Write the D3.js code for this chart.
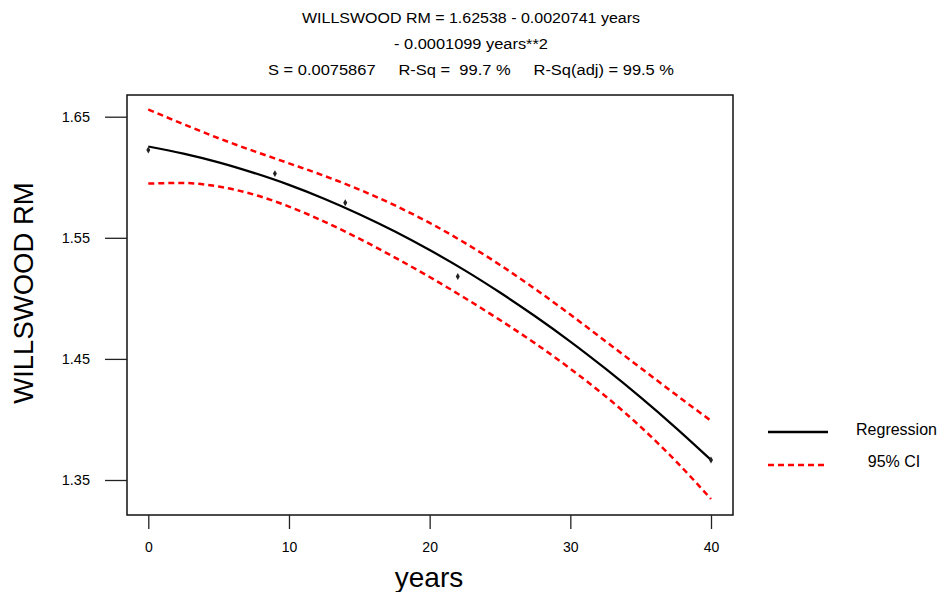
<!DOCTYPE html>
<html>
<head>
<meta charset="utf-8">
<script src="https://cdn.jsdelivr.net/npm/d3@7"></script>
<style>
  html, body { margin: 0; padding: 0; background: #fff; }
  svg { display: block; font-family: Arial, "Liberation Sans", sans-serif; }
</style>
</head>
<body>
<svg id="chart" width="943" height="592"></svg>
<script>
// ---- data ----
const obsYears = [0, 9, 14, 22, 40];
const obsRM = [1.6225, 1.6030, 1.5790, 1.5180, 1.3665];

const curveYears = [0, 2.5, 5, 7.5, 10, 12.5, 15, 17.5, 20, 22.5, 25, 27.5, 30, 32.5, 35, 37.5, 40];
const fitRM   = [1.6254, 1.6195, 1.6123, 1.6036, 1.5937, 1.5823, 1.5695, 1.5554, 1.5399, 1.5231, 1.5048, 1.4852, 1.4643, 1.4419, 1.4182, 1.3931, 1.3666];
const upperCI = [1.6560, 1.6438, 1.6322, 1.6216, 1.6115, 1.6012, 1.5898, 1.5769, 1.5623, 1.5458, 1.5276, 1.5077, 1.4866, 1.4646, 1.4425, 1.4205, 1.3989];
const lowerCI = [1.5948, 1.5953, 1.5923, 1.5857, 1.5758, 1.5634, 1.5493, 1.5339, 1.5176, 1.5003, 1.4821, 1.4628, 1.4419, 1.4192, 1.3939, 1.3656, 1.3343];

const xTicks = [0, 10, 20, 30, 40];
const yTicks = [1.35, 1.45, 1.55, 1.65];

const titleLines = [
  "WILLSWOOD RM = 1.62538 - 0.0020741 years",
  "- 0.0001099 years**2",
  "S = 0.0075867     R-Sq =  99.7 %     R-Sq(adj) = 99.5 %"
];
const titleWidths = [338, 154, 406];
const xLabel = "years";
const yLabel = "WILLSWOOD RM";
const legendItems = ["Regression", "95% CI"];

// ---- drawing ----
const svg = d3.select("#chart");
const frame = {left: 127, right: 733, top: 95, bottom: 515};

const x = d3.scaleLinear().domain([0, 40]).range([148.3, 711]);
const y = d3.scaleLinear().domain([1.35, 1.65]).range([480, 116.7]);

// frame
svg.append("rect")
  .attr("x", frame.left).attr("y", frame.top)
  .attr("width", frame.right - frame.left).attr("height", frame.bottom - frame.top)
  .attr("fill", "none").attr("stroke", "#111").attr("stroke-width", 1.5);

// axes
const yAxis = d3.axisLeft(y).tickValues(yTicks).tickFormat(d3.format(".2f"))
  .tickSize(22).tickSizeOuter(0).tickPadding(15);
const gy = svg.append("g").attr("transform", `translate(${frame.left},0)`).call(yAxis);
gy.select(".domain").remove();
gy.selectAll("line").attr("stroke", "#222").attr("stroke-width", 1.3);
gy.selectAll("text").attr("font-size", 14.5).attr("fill", "#000")
  .attr("font-family", "Arial, 'Liberation Sans', sans-serif");

const xAxis = d3.axisBottom(x).tickValues(xTicks).tickFormat(d3.format("d"))
  .tickSize(14).tickSizeOuter(0).tickPadding(12.8);
const gx = svg.append("g").attr("transform", `translate(0,${frame.bottom})`).call(xAxis);
gx.select(".domain").remove();
gx.selectAll("line").attr("stroke", "#222").attr("stroke-width", 1.3);
gx.selectAll("text").attr("font-size", 14).attr("fill", "#000")
  .attr("font-family", "Arial, 'Liberation Sans', sans-serif");

// lines
const lineGen = arr => d3.line()
  .x((d, i) => x(curveYears[i]))
  .y(d => y(d))
  .curve(d3.curveMonotoneX)(arr);

svg.append("path").attr("d", lineGen(upperCI))
  .attr("fill", "none").attr("stroke", "#ff0000").attr("stroke-width", 2.5)
  .attr("stroke-dasharray", "6,4");
svg.append("path").attr("d", lineGen(lowerCI))
  .attr("fill", "none").attr("stroke", "#ff0000").attr("stroke-width", 2.5)
  .attr("stroke-dasharray", "6,4");
svg.append("path").attr("d", lineGen(fitRM))
  .attr("fill", "none").attr("stroke", "#000").attr("stroke-width", 2.2);

// points
svg.append("g").selectAll("path").data(obsYears).join("path")
  .attr("transform", (d, i) => `translate(${x(d)},${y(obsRM[i])})`)
  .attr("d", d3.symbol().type(d3.symbolDiamond).size(14))
  .attr("fill", "#222");

// titles
titleLines.forEach((t, i) => {
  svg.append("text").attr("x", 471).attr("y", 22.5 + i * 26)
    .attr("text-anchor", "middle").attr("font-size", 15.5).attr("fill", "#000")
    .attr("textLength", titleWidths[i]).attr("lengthAdjust", "spacingAndGlyphs")
    .attr("xml:space", "preserve").style("white-space", "pre")
    .text(t);
});

// axis labels
svg.append("text").attr("x", 429).attr("y", 587)
  .attr("text-anchor", "middle").attr("font-size", 28).attr("fill", "#000").text(xLabel);
svg.append("text").attr("transform", "translate(33,293) rotate(-90)")
  .attr("text-anchor", "middle").attr("font-size", 27.5).attr("fill", "#000").text(yLabel);

// legend
const lg = svg.append("g");
lg.append("line").attr("x1", 768).attr("x2", 828).attr("y1", 432).attr("y2", 432)
  .attr("stroke", "#000").attr("stroke-width", 2.5);
lg.append("line").attr("x1", 768).attr("x2", 828).attr("y1", 465).attr("y2", 465)
  .attr("stroke", "#ff0000").attr("stroke-width", 2.5).attr("stroke-dasharray", "6,4");
lg.append("text").attr("x", 896.5).attr("y", 435).attr("text-anchor", "middle")
  .attr("font-size", 16).attr("fill", "#000").text(legendItems[0]);
lg.append("text").attr("x", 894).attr("y", 467).attr("text-anchor", "middle")
  .attr("font-size", 16).attr("fill", "#000").text(legendItems[1]);
</script>
</body>
</html>
